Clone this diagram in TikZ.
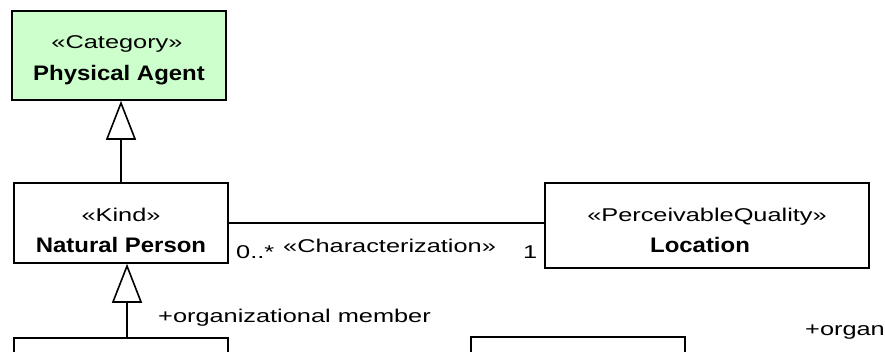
\documentclass[tikz,border=0pt]{standalone}
\usepackage{fontspec}
\setmainfont{Liberation Sans}
\newfontfamily\regf{Liberation Sans}[FakeStretch=1.37]
\newfontfamily\boldf{Liberation Sans}[FakeStretch=1.14]
\usetikzlibrary{arrows.meta}
\definecolor{agentgreen}{RGB}{204,255,204}
\tikzset{
  umlbox/.style={draw, line width=1.6pt, rectangle, inner sep=0pt},
  ster/.style={inner sep=0pt, anchor=base, font=\regf\fontsize{18.5}{20}\selectfont},
  nm/.style={inner sep=0pt, anchor=base, font=\boldf\bfseries\fontsize{21}{24}\selectfont},
  lbl/.style={inner sep=0pt, anchor=base west, font=\regf\fontsize{18.5}{20}\selectfont},
  gen/.style={line width=1.6pt, -{Triangle[length=39pt,width=30pt,fill=white]}},
  assoc/.style={line width=1.6pt}
}
\begin{document}
\begin{tikzpicture}[x=1pt,y=-1pt]
\useasboundingbox (0,0) rectangle (885,351);
\clip (0,0) rectangle (885,351);
% boxes
\node[umlbox, fill=agentgreen, minimum width=214pt, minimum height=89pt] (pa) at (119,55.5) {};
\node[ster] (pas) at (117,48.3) {«Category»};
\node[nm] (pan) at (119,80) {Physical Agent};
\node[umlbox, fill=white, minimum width=214pt, minimum height=80pt] (np) at (121,223) {};
\node[ster] (nps) at (121,221) {«Kind»};
\node[nm] (npn) at (121,252.3) {Natural Person};
\node[umlbox, fill=white, minimum width=324pt, minimum height=85pt] (loc) at (707,225.5) {};
\node[ster] (locs) at (707,221) {«PerceivableQuality»};
\node[nm] (locn) at (700,252) {Location};
\node[umlbox, fill=white, minimum width=214pt, minimum height=84pt] (bl) at (121,380) {};
\node[umlbox, fill=white, minimum width=214pt, minimum height=86pt] (bm) at (578,380) {};
% connectors
\draw[gen] (np.north) -- (np.north |- pa.south);
\draw[gen] ([xshift=6pt]bl.north) -- ([xshift=6pt]np.south);
\draw[assoc] (np.east) -- (np.east -| loc.west);
% labels
\node[lbl] (m1) at (236,258) {0..*};
\node[lbl] (ch) at (283,252) {«Characterization»};
\node[lbl] (m2) at (523,258) {1};
\node[lbl] (role1) at (158,322) {+organizational member};
\node[lbl] (role2) at (805,335) {+organ};
\end{tikzpicture}
\end{document}
